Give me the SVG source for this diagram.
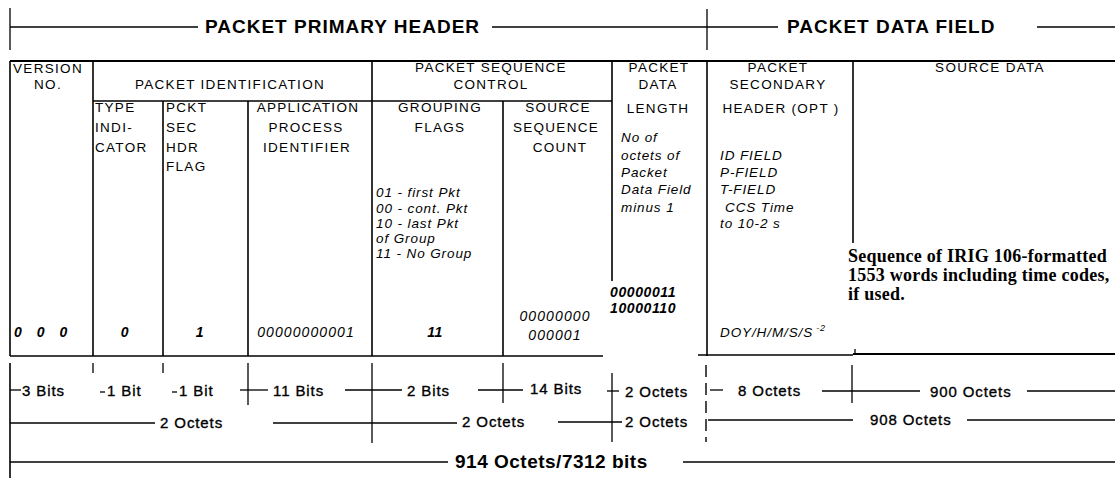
<svg xmlns="http://www.w3.org/2000/svg" width="1115" height="480" viewBox="0 0 1115 480">
<style>
.ln{stroke:#000;stroke-width:1.6;fill:none}
.tk{stroke:#000;stroke-width:2.2;fill:none}
.dl{stroke:#000;stroke-width:1.3;fill:none}
.ds{stroke:#000;stroke-width:1.4;fill:none;stroke-dasharray:12 6}
text{fill:#000;font-family:"Liberation Sans",Arial,sans-serif}
.ti{font-size:19px;font-weight:bold;letter-spacing:1px}
.hd{font-size:13.5px;letter-spacing:1.3px}
.c{text-anchor:middle}
.it{font-size:13.5px;font-style:italic;letter-spacing:0.9px}
.bi{font-size:14px;font-style:italic;font-weight:bold;letter-spacing:0.6px}
.iv{font-size:14px;font-style:italic;letter-spacing:1.1px}
.dm{font-size:15px;letter-spacing:0.9px;stroke:#000;stroke-width:0.35px}
.src{font-family:"Liberation Serif","Times New Roman",serif;font-size:18px;font-weight:bold;letter-spacing:0.25px}
</style>
<rect width="1115" height="480" fill="#fff"/>

<g id="title-primary-header">
<text class="ti" x="205" y="33">PACKET PRIMARY HEADER</text>
</g>
<g id="title-data-field">
<text class="ti" x="787" y="33">PACKET DATA FIELD</text>
</g>

<g id="table-frame">
<line class="tk" x1="10" y1="61" x2="1115" y2="61"/>
<line class="ln" x1="10" y1="61" x2="10" y2="356"/>
<line class="ln" x1="93" y1="61" x2="93" y2="356"/>
<line class="ln" x1="93" y1="101" x2="612" y2="101"/>
<line class="ln" x1="163" y1="101" x2="163" y2="356"/>
<line class="ln" x1="248" y1="101" x2="248" y2="356"/>
<line class="ln" x1="372" y1="61" x2="372" y2="356"/>
<line class="ln" x1="503" y1="101" x2="503" y2="356"/>
<line class="ln" x1="612" y1="61" x2="612" y2="281"/>
<line class="ln" x1="707" y1="61" x2="707" y2="356"/>
<line class="ln" x1="853" y1="61" x2="853" y2="243"/>
<line class="ln" x1="10" y1="356" x2="603" y2="356"/>
<line class="ln" x1="698" y1="355" x2="853" y2="355"/>
<line class="tk" x1="853" y1="354" x2="1115" y2="354"/>
<line class="dl" x1="855" y1="349" x2="855" y2="354"/>
</g>

<g id="version-no">
<text class="hd c" x="48" y="73">VERSION</text>
<text class="hd c" x="48" y="89">NO.</text>
<text class="bi" x="14" y="337" textLength="54">0 0 0</text>
</g>

<g id="packet-identification">
<text class="hd c" x="230" y="89">PACKET IDENTIFICATION</text>
</g>

<g id="type-indicator">
<text class="hd" x="95" y="112">TYPE</text>
<text class="hd" x="95" y="132">INDI-</text>
<text class="hd" x="95" y="152">CATOR</text>
<text class="bi c" x="125" y="337">0</text>
</g>

<g id="pckt-sec-hdr-flag">
<text class="hd" x="166" y="112">PCKT</text>
<text class="hd" x="166" y="132">SEC</text>
<text class="hd" x="166" y="152">HDR</text>
<text class="hd" x="166" y="171">FLAG</text>
<text class="bi c" x="200" y="337">1</text>
</g>

<g id="application-process-identifier">
<text class="hd c" x="308" y="112">APPLICATION</text>
<text class="hd c" x="306" y="132">PROCESS</text>
<text class="hd c" x="307" y="152">IDENTIFIER</text>
<text class="iv c" x="306" y="337">00000000001</text>
</g>

<g id="packet-sequence-control">
<text class="hd c" x="491" y="72">PACKET SEQUENCE</text>
<text class="hd c" x="491" y="89">CONTROL</text>
</g>

<g id="grouping-flags">
<text class="hd c" x="440" y="112">GROUPING</text>
<text class="hd c" x="440" y="132">FLAGS</text>
<text class="it" x="376" y="197">01 - first Pkt</text>
<text class="it" x="376" y="213">00 - cont. Pkt</text>
<text class="it" x="376" y="228">10 - last Pkt</text>
<text class="it" x="376" y="243">of Group</text>
<text class="it" x="376" y="258">11 - No Group</text>
<text class="bi c" x="435" y="337">11</text>
</g>

<g id="source-sequence-count">
<text class="hd c" x="558" y="112">SOURCE</text>
<text class="hd c" x="556" y="132">SEQUENCE</text>
<text class="hd c" x="560" y="152">COUNT</text>
<text class="iv c" x="555" y="321">00000000</text>
<text class="iv c" x="555" y="340">000001</text>
</g>

<g id="packet-data-length">
<text class="hd c" x="659" y="72">PACKET</text>
<text class="hd c" x="658" y="89">DATA</text>
<text class="hd c" x="658" y="113">LENGTH</text>
<text class="it" x="621" y="142">No  of</text>
<text class="it" x="621" y="160">octets of</text>
<text class="it" x="621" y="177">Packet</text>
<text class="it" x="621" y="194">Data Field</text>
<text class="it" x="621" y="212">minus 1</text>
<text class="bi" x="610" y="297">00000011</text>
<text class="bi" x="610" y="313">10000110</text>
</g>

<g id="packet-secondary-header">
<text class="hd c" x="778" y="72">PACKET</text>
<text class="hd c" x="778" y="89">SECONDARY</text>
<text class="hd c" x="781" y="113">HEADER (OPT )</text>
<text class="it" x="720" y="160">ID FIELD</text>
<text class="it" x="720" y="177">P-FIELD</text>
<text class="it" x="720" y="194">T-FIELD</text>
<text class="it" x="725" y="212">CCS Time</text>
<text class="it" x="720" y="228">to 10-2 s</text>
<text class="it" x="720" y="337">DOY/H/M/S/S<tspan font-size="9" dx="3" dy="-6">-2</tspan></text>
</g>

<g id="source-data">
<text class="hd c" x="990" y="72">SOURCE DATA</text>
<text class="src" x="848" y="262">Sequence of IRIG 106-formatted</text>
<text class="src" x="848" y="281">1553 words including time codes,</text>
<text class="src" x="848" y="300">if used.</text>
</g>

<g id="connectors">
<line class="dl" x1="10" y1="8" x2="10" y2="50"/>
<line class="dl" x1="10" y1="27" x2="198" y2="27"/>
<line class="dl" x1="492" y1="27" x2="778" y2="27"/>
<line class="dl" x1="707" y1="9" x2="707" y2="50"/>
<line class="dl" x1="1037" y1="27" x2="1115" y2="27"/>
<line class="ln" x1="10" y1="363" x2="10" y2="478"/>
<line class="dl" x1="10" y1="390" x2="21" y2="390"/>
<line class="dl" x1="93" y1="363" x2="93" y2="373"/>
<line class="dl" x1="100" y1="392" x2="105" y2="392"/>
<line class="dl" x1="163" y1="363" x2="163" y2="373"/>
<line class="dl" x1="172" y1="392" x2="177" y2="392"/>
<line class="dl" x1="248" y1="363" x2="248" y2="405"/>
<line class="dl" x1="240" y1="390" x2="268" y2="390"/>
<line class="dl" x1="345" y1="390" x2="402" y2="390"/>
<line class="dl" x1="372" y1="363" x2="372" y2="443"/>
<line class="dl" x1="478" y1="390" x2="523" y2="390"/>
<line class="dl" x1="503" y1="363" x2="503" y2="403"/>
<line class="dl" x1="612" y1="373" x2="612" y2="442"/>
<line class="dl" x1="607" y1="391" x2="619" y2="391"/>
<line class="ds" x1="706" y1="365" x2="706" y2="442"/>
<line class="dl" x1="710" y1="390" x2="723" y2="390"/>
<line class="dl" x1="822" y1="391" x2="920" y2="391"/>
<line class="dl" x1="852" y1="365" x2="852" y2="403"/>
<line class="dl" x1="1027" y1="391" x2="1115" y2="391"/>
<line class="dl" x1="10" y1="423" x2="155" y2="423"/>
<line class="dl" x1="273" y1="423" x2="457" y2="423"/>
<line class="dl" x1="558" y1="422" x2="622" y2="422"/>
<line class="dl" x1="708" y1="420" x2="853" y2="420"/>
<line class="dl" x1="967" y1="420" x2="1115" y2="420"/>
<line class="dl" x1="10" y1="462" x2="448" y2="462"/>
<line class="dl" x1="683" y1="462" x2="1115" y2="462"/>
</g>

<g id="dimension-labels">
<text class="dm" x="22" y="396">3 Bits</text>
<text class="dm" x="107" y="396">1 Bit</text>
<text class="dm" x="179" y="396">1 Bit</text>
<text class="dm" x="273" y="396">11 Bits</text>
<text class="dm" x="407" y="396">2 Bits</text>
<text class="dm" x="530" y="394">14 Bits</text>
<text class="dm" x="625" y="397">2 Octets</text>
<text class="dm" x="738" y="396">8 Octets</text>
<text class="dm" x="930" y="397">900 Octets</text>
<text class="dm" x="160" y="428">2 Octets</text>
<text class="dm" x="462" y="427">2 Octets</text>
<text class="dm" x="625" y="427">2 Octets</text>
<text class="dm" x="870" y="425">908 Octets</text>
<text class="ti" x="455" y="468" style="letter-spacing:0.5px">914 Octets/7312 bits</text>
</g>
</svg>
